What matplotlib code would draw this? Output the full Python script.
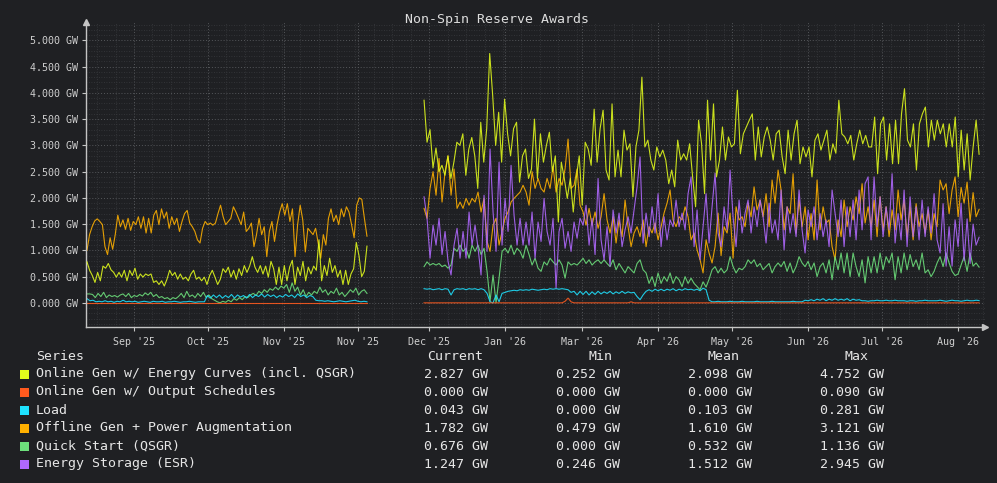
import numpy as np
import matplotlib
matplotlib.use("Agg")
import matplotlib.pyplot as plt
from matplotlib.patches import Rectangle
from matplotlib.ticker import FixedLocator, MultipleLocator, AutoMinorLocator

plt.rcParams['font.family'] = ['DejaVu Sans Mono']

# time axis in days (0 = "Sep '25" tick); two data segments with a gap
seg1_span = (-19.1, 94.7)
seg2_span = (117.9, 343.5)
tick_days = [0, 30, 61, 91, 120, 151, 182, 213, 243, 274, 304, 335]
tick_labels = ["Sep '25", "Oct '25", "Nov '25", "Nov '25", "Dec '25", "Jan '26",
               "Mar '26", "Apr '26", "May '26", "Jun '26", "Jul '26", "Aug '26"]

names = ["Online Gen w/ Energy Curves (incl. QSGR)", "Online Gen w/ Output Schedules",
         "Load", "Offline Gen + Power Augmentation", "Quick Start (QSGR)", "Energy Storage (ESR)"]
colors = ["#e2fb1c", "#ff5a1e", "#1ee2ff", "#ffb000", "#6de07c", "#b068ff"]
cur_gw = [2.827, 0.000, 0.043, 1.782, 0.676, 1.247]
min_gw = [0.252, 0.000, 0.000, 0.479, 0.000, 0.246]
mean_gw = [2.098, 0.000, 0.103, 1.610, 0.532, 1.512]
max_gw = [4.752, 0.090, 0.281, 3.121, 1.136, 2.945]

# ---- segment 1 (GW) ----
energy_s1 = [0.78, 0.62, 0.52, 0.39, 0.58, 0.42, 0.70, 0.66, 0.75, 0.63,
             0.58, 0.49, 0.58, 0.49, 0.62, 0.42, 0.62, 0.52, 0.66, 0.45,
             0.55, 0.49, 0.55, 0.52, 0.55, 0.39, 0.42, 0.35, 0.42, 0.32,
             0.45, 0.62, 0.52, 0.58, 0.45, 0.55, 0.45, 0.49, 0.42, 0.55,
             0.62, 0.45, 0.49, 0.42, 0.49, 0.35, 0.52, 0.62, 0.49, 0.35,
             0.45, 0.65, 0.58, 0.68, 0.49, 0.62, 0.45, 0.65, 0.52, 0.71,
             0.58, 0.70, 0.88, 0.68, 0.58, 0.71, 0.55, 0.70, 0.49, 0.79,
             0.65, 0.35, 0.68, 0.35, 0.71, 0.42, 0.68, 0.81, 0.35, 0.68,
             0.52, 0.79, 0.42, 0.68, 0.55, 0.70, 0.62, 1.20, 0.42, 0.71,
             0.52, 0.85, 0.58, 0.71, 0.49, 0.62, 0.35, 0.62, 0.35, 0.55,
             0.65, 1.15, 0.90, 0.50, 0.60, 1.08]
sched_s1 = [0.0, 0.0, 0.0, 0.0, 0.0, 0.0, 0.0, 0.0]
load_s1 = [0.08, 0.04, 0.05, 0.02, 0.03, 0.02, 0.04, 0.02, 0.03, 0.01,
           0.03, 0.02, 0.05, 0.02, 0.03, 0.02, 0.03, 0.01, 0.02, 0.03,
           0.02, 0.01, 0.03, 0.02, 0.02, 0.03, 0.01, 0.02, 0.02, 0.03,
           0.02, 0.01, 0.02, 0.02, 0.03, 0.02, 0.01, 0.02, 0.02, 0.02,
           0.14, 0.09, 0.15, 0.10, 0.15, 0.09, 0.14, 0.10, 0.16, 0.09,
           0.15, 0.11, 0.14, 0.09, 0.16, 0.10, 0.15, 0.12, 0.17, 0.11,
           0.16, 0.12, 0.15, 0.10, 0.14, 0.11, 0.16, 0.12, 0.15, 0.10,
           0.17, 0.12, 0.15, 0.10, 0.14, 0.12, 0.05, 0.04, 0.04, 0.03,
           0.04, 0.03, 0.02, 0.03, 0.04, 0.03, 0.02, 0.03, 0.04, 0.05,
           0.03, 0.02, 0.03, 0.02]
offline_s1 = [1.00, 1.30, 1.45, 1.56, 1.60, 1.55, 1.49, 1.07, 0.92, 1.24,
              1.02, 1.30, 1.67, 1.45, 1.58, 1.40, 1.61, 1.38, 1.55, 1.49,
              1.64, 1.42, 1.64, 1.33, 1.61, 1.33, 1.67, 1.76, 1.49, 1.79,
              1.61, 1.73, 1.42, 1.64, 1.49, 1.61, 1.36, 1.55, 1.70, 1.76,
              1.52, 1.45, 1.36, 1.20, 1.14, 1.42, 1.55, 1.49, 1.52, 1.48,
              1.52, 1.70, 1.86, 1.64, 1.49, 1.55, 1.61, 1.83, 1.73, 1.61,
              1.49, 1.73, 1.36, 1.42, 1.52, 1.07, 1.30, 1.61, 1.30, 1.45,
              0.88, 1.36, 1.55, 1.17, 1.49, 1.73, 1.89, 1.67, 1.89, 1.55,
              1.79, 0.88, 1.49, 1.86, 1.58, 0.97, 1.42, 1.36, 1.30, 1.42,
              1.14, 0.85, 1.30, 1.10, 1.61, 1.79, 1.55, 1.67, 1.49, 1.79,
              1.64, 1.83, 1.73, 1.49, 1.24, 1.86, 2.00, 1.97, 1.61, 1.27]
quick_s1 = [0.17, 0.17, 0.16, 0.10, 0.18, 0.12, 0.20, 0.10, 0.15, 0.12,
            0.14, 0.11, 0.15, 0.17, 0.12, 0.18, 0.10, 0.14, 0.12, 0.16,
            0.13, 0.19, 0.15, 0.20, 0.12, 0.16, 0.10, 0.12, 0.08, 0.10,
            0.06, 0.10, 0.08, 0.12, 0.18, 0.10, 0.22, 0.12, 0.15, 0.10,
            0.18, 0.12, 0.20, 0.10, 0.15, 0.08, 0.05, 0.02, 0.00, 0.03,
            0.01, 0.05, 0.02, 0.08, 0.05, 0.10, 0.06, 0.12, 0.10, 0.15,
            0.18, 0.14, 0.22, 0.18, 0.25, 0.20, 0.27, 0.24, 0.30, 0.25,
            0.32, 0.28, 0.35, 0.20, 0.38, 0.22, 0.30, 0.15, 0.25, 0.12,
            0.20, 0.15, 0.22, 0.18, 0.30, 0.20, 0.25, 0.15, 0.22, 0.18,
            0.28, 0.15, 0.20, 0.12, 0.18, 0.25, 0.20, 0.28, 0.15, 0.22,
            0.25, 0.18]
storage_s1 = []

# ---- segment 2 (GW) ----
energy_s2 = [3.86, 3.06, 3.30, 2.57, 2.95, 2.50, 2.62, 2.43, 2.80, 2.37,
             2.68, 3.06, 3.00, 3.22, 2.43, 2.93, 3.15, 2.80, 2.18, 3.44,
             2.68, 3.32, 4.75, 3.95, 3.00, 3.63, 2.68, 3.88, 3.22, 2.80,
             3.32, 3.44, 2.30, 2.80, 2.93, 2.37, 2.55, 3.50, 2.37, 3.22,
             2.68, 3.00, 3.25, 2.50, 2.80, 1.54, 2.68, 2.37, 1.99, 2.37,
             1.73, 2.37, 2.80, 1.86, 3.06, 2.93, 2.62, 3.69, 2.68, 3.32,
             3.67, 2.53, 2.34, 3.79, 2.40, 2.91, 2.40, 3.29, 2.91, 3.03,
             2.02, 2.97, 3.29, 4.30, 2.97, 3.10, 2.72, 2.53, 2.97, 2.78,
             2.91, 2.72, 2.27, 2.53, 2.21, 3.10, 2.72, 2.84, 2.72, 3.03,
             2.40, 1.83, 3.48, 3.03, 2.08, 3.86, 2.72, 3.79, 2.40, 2.72,
             3.35, 2.72, 3.16, 2.97, 3.03, 4.05, 2.84, 3.22, 3.35, 3.48,
             3.60, 2.72, 3.35, 2.78, 3.16, 3.35, 3.10, 2.72, 3.22, 3.29,
             2.78, 2.46, 3.29, 2.72, 3.22, 3.48, 2.65, 2.97, 2.78, 2.97,
             2.40, 3.10, 3.22, 2.91, 3.10, 3.29, 2.72, 3.03, 2.85, 3.86,
             3.22, 3.16, 3.03, 3.19, 2.72, 3.03, 3.29, 3.03, 3.19, 2.97,
             2.97, 3.54, 2.46, 3.41, 3.54, 2.72, 3.41, 2.65, 3.48, 2.65,
             3.60, 4.08, 3.10, 2.97, 3.41, 2.53, 3.41, 3.60, 3.73, 2.97,
             3.48, 3.10, 3.48, 3.22, 3.41, 2.97, 3.41, 2.97, 3.54, 2.40,
             3.29, 2.53, 3.22, 2.34, 2.97, 3.48, 2.83]
sched_s2 = [0, 0, 0, 0, 0, 0, 0, 0, 0, 0, 0, 0, 0, 0, 0, 0, 0, 0, 0, 0,
            0, 0, 0, 0, 0, 0, 0, 0, 0, 0, 0, 0, 0, 0, 0, 0, 0, 0, 0, 0,
            0, 0, 0, 0, 0, 0, 0, 0.03, 0.09, 0.02, 0, 0, 0, 0, 0, 0, 0, 0, 0, 0,
            0, 0, 0, 0, 0, 0, 0, 0, 0, 0.02, 0, 0, 0, 0, 0, 0, 0, 0, 0, 0,
            0, 0, 0, 0, 0, 0, 0, 0, 0, 0, 0, 0, 0, 0, 0, 0, 0, 0, 0, 0,
            0, 0, 0, 0, 0, 0, 0, 0, 0, 0, 0, 0, 0, 0, 0, 0, 0, 0, 0, 0,
            0, 0, 0, 0, 0, 0, 0, 0, 0, 0, 0, 0, 0, 0, 0, 0, 0, 0, 0, 0,
            0, 0, 0, 0, 0, 0, 0, 0, 0, 0, 0, 0, 0, 0, 0, 0, 0, 0, 0, 0,
            0, 0, 0, 0, 0, 0, 0, 0, 0, 0, 0, 0, 0, 0, 0, 0, 0, 0, 0, 0,
            0, 0, 0, 0, 0, 0]
load_s2 = [0.27, 0.26, 0.27, 0.25, 0.26, 0.27, 0.25, 0.27, 0.26, 0.15,
           0.25, 0.27, 0.26, 0.27, 0.25, 0.27, 0.26, 0.27, 0.25, 0.27,
           0.25, 0.18, 0.02, 0.00, 0.15, 0.02, 0.18, 0.20, 0.22, 0.23,
           0.24, 0.23, 0.25, 0.24, 0.25, 0.24, 0.26, 0.25, 0.24, 0.25,
           0.26, 0.25, 0.27, 0.26, 0.27, 0.26, 0.27, 0.26, 0.25, 0.20,
           0.22, 0.15, 0.22, 0.16, 0.22, 0.15, 0.21, 0.16, 0.22, 0.17,
           0.21, 0.18, 0.22, 0.17, 0.21, 0.18, 0.22, 0.18, 0.21, 0.19,
           0.20, 0.12, 0.06, 0.15, 0.22, 0.25, 0.22, 0.26, 0.23, 0.26,
           0.23, 0.26, 0.24, 0.27, 0.23, 0.26, 0.24, 0.27, 0.25, 0.26,
           0.24, 0.26, 0.23, 0.28, 0.25, 0.05, 0.02, 0.02, 0.03, 0.02,
           0.02, 0.02, 0.03, 0.02, 0.02, 0.02, 0.03, 0.02, 0.02, 0.02,
           0.02, 0.03, 0.02, 0.02, 0.02, 0.02, 0.03, 0.02, 0.02, 0.02,
           0.02, 0.02, 0.02, 0.03, 0.02, 0.02, 0.02, 0.05, 0.04, 0.06,
           0.04, 0.07, 0.05, 0.08, 0.04, 0.07, 0.05, 0.08, 0.05, 0.07,
           0.05, 0.08, 0.04, 0.07, 0.05, 0.06, 0.04, 0.04, 0.03, 0.04,
           0.04, 0.05, 0.04, 0.04, 0.05, 0.04, 0.04, 0.05, 0.04, 0.04,
           0.04, 0.03, 0.04, 0.04, 0.03, 0.04, 0.04, 0.05, 0.04, 0.04,
           0.04, 0.04, 0.05, 0.04, 0.03, 0.04, 0.05, 0.04, 0.04, 0.03,
           0.04, 0.05, 0.04, 0.04, 0.05, 0.043]
offline_s2 = [1.80, 1.61, 2.18, 2.50, 2.05, 2.75, 1.92, 2.50, 2.80, 2.05,
              2.55, 1.80, 1.92, 1.80, 1.99, 1.86, 1.99, 1.92, 2.11, 1.73,
              1.99, 1.17, 0.98, 1.48, 1.61, 1.10, 1.36, 1.61, 1.73, 1.92,
              1.99, 2.05, 2.11, 2.24, 2.11, 1.86, 2.50, 2.18, 2.37, 2.18,
              2.11, 2.37, 2.18, 2.60, 2.11, 2.37, 2.24, 2.55, 3.12, 2.18,
              2.24, 2.55, 1.86, 1.73, 1.48, 1.80, 1.48, 1.73, 1.42, 1.64,
              2.08, 1.58, 1.33, 1.64, 1.14, 1.58, 1.26, 1.96, 1.45, 1.07,
              1.33, 1.45, 1.26, 1.58, 1.07, 1.45, 1.33, 1.52, 1.20, 1.45,
              1.71, 1.90, 2.15, 1.58, 1.45, 1.64, 1.58, 1.83, 1.64, 1.20,
              1.33, 1.01, 0.82, 0.57, 1.20, 0.95, 0.76, 1.07, 1.71, 0.90,
              1.45, 1.33, 1.71, 0.85, 1.83, 1.58, 1.64, 1.45, 1.90, 1.64,
              2.21, 1.77, 1.96, 1.64, 2.08, 1.45, 2.34, 1.90, 2.53, 2.15,
              1.39, 1.83, 1.70, 2.46, 1.33, 1.96, 1.45, 1.83, 1.20, 1.70,
              1.20, 2.34, 1.39, 1.83, 1.52, 1.58, 1.07, 0.82, 1.58, 1.26,
              1.96, 1.45, 1.83, 1.58, 2.02, 1.70, 2.27, 1.52, 1.83, 1.45,
              1.96, 1.26, 2.02, 1.39, 1.83, 1.26, 1.77, 1.39, 2.15, 1.58,
              1.96, 1.26, 1.83, 1.20, 1.89, 1.45, 1.70, 1.33, 1.77, 1.20,
              1.70, 1.45, 2.34, 2.15, 2.27, 1.70, 2.15, 2.40, 1.64, 2.20,
              1.90, 2.30, 1.55, 2.10, 1.64, 1.78]
quick_s2 = [0.69, 0.78, 0.72, 0.75, 0.72, 0.75, 0.69, 0.72, 0.66, 0.72,
            1.04, 0.98, 1.10, 0.98, 1.04, 0.85, 1.10, 0.98, 1.10, 0.92,
            1.04, 0.60, 0.03, 0.53, 0.00, 0.47, 0.98, 1.04, 0.95, 1.10,
            0.92, 1.04, 0.98, 0.85, 1.10, 0.92, 0.72, 0.85, 0.66, 0.60,
            0.78, 0.72, 0.85, 0.78, 0.72, 0.82, 0.72, 0.47, 0.78, 0.72,
            0.75, 0.72, 0.78, 0.85, 0.75, 0.82, 0.72, 0.78, 0.82, 0.75,
            0.82, 0.75, 0.69, 0.82, 0.63, 0.75, 0.66, 0.57, 0.69, 0.63,
            0.57, 0.75, 0.82, 0.63, 0.57, 0.37, 0.50, 0.31, 0.57, 0.37,
            0.50, 0.41, 0.57, 0.37, 0.50, 0.44, 0.31, 0.50, 0.37, 0.47,
            0.37, 0.31, 0.25, 0.40, 0.30, 0.45, 0.63, 0.69, 0.57, 0.66,
            0.57, 0.63, 0.88, 0.69, 0.57, 0.66, 0.63, 0.69, 0.82, 0.75,
            0.82, 0.69, 0.75, 0.63, 0.69, 0.75, 0.57, 0.69, 0.76, 0.69,
            0.79, 0.60, 0.76, 0.57, 0.69, 0.88, 0.76, 0.69, 0.79, 0.63,
            0.76, 0.50, 0.69, 0.76, 0.57, 0.82, 0.44, 0.88, 0.63, 0.95,
            0.57, 0.95, 0.50, 0.95, 0.69, 0.50, 0.82, 0.38, 0.88, 0.57,
            0.88, 0.57, 0.95, 0.63, 0.88, 0.76, 0.95, 0.44, 0.88, 0.57,
            0.95, 0.63, 0.92, 0.69, 0.82, 0.63, 0.95, 0.57, 0.63, 0.50,
            0.60, 0.76, 0.88, 0.69, 0.95, 0.76, 0.60, 0.52, 0.55, 0.72,
            0.88, 0.60, 0.95, 0.70, 0.76, 0.68]
storage_s2 = [2.02, 1.61, 0.85, 1.48, 1.10, 1.61, 0.92, 1.36, 0.79, 0.53,
              1.10, 1.42, 0.85, 1.36, 0.85, 1.73, 1.10, 1.48, 1.04, 0.53,
              2.05, 0.98, 2.93, 1.73, 0.98, 2.68, 1.10, 1.99, 1.36, 2.62,
              1.67, 1.10, 1.61, 1.10, 1.54, 1.10, 1.73, 0.85, 1.54, 1.17,
              1.99, 1.36, 1.10, 1.61, 0.28, 1.36, 1.61, 1.04, 1.36, 0.98,
              1.54, 1.23, 1.61, 1.48, 1.86, 1.10, 1.61, 0.92, 2.37, 1.20,
              0.82, 1.45, 0.70, 1.77, 1.33, 1.71, 1.07, 1.39, 1.64, 1.33,
              1.77, 2.21, 2.78, 1.14, 1.71, 1.26, 1.83, 1.33, 2.08, 1.07,
              1.64, 1.20, 1.58, 1.45, 1.96, 1.45, 1.71, 1.39, 2.08, 2.40,
              1.07, 1.77, 0.82, 1.45, 2.08, 1.14, 1.83, 2.47, 1.33, 1.07,
              1.83, 1.39, 2.53, 1.64, 1.07, 1.96, 1.33, 1.71, 1.96, 1.33,
              1.83, 1.45, 1.96, 1.64, 1.14, 1.90, 1.33, 1.58, 1.20, 2.15,
              1.01, 1.83, 1.33, 1.70, 1.26, 2.15, 1.39, 0.95, 1.77, 1.45,
              1.83, 1.20, 1.70, 1.26, 1.58, 1.07, 2.15, 1.70, 1.26, 1.96,
              1.07, 1.83, 1.26, 1.96, 1.20, 2.15, 1.39, 2.27, 2.40, 1.20,
              2.40, 1.45, 2.02, 1.26, 1.83, 1.39, 2.46, 1.14, 1.70, 1.20,
              2.15, 1.07, 2.02, 1.26, 1.83, 1.20, 1.96, 1.26, 1.83, 1.33,
              2.08, 1.20, 0.95, 1.89, 0.70, 1.45, 0.70, 1.58, 1.07, 1.90,
              0.80, 1.60, 0.75, 1.50, 1.10, 1.25]

seg1_data = [energy_s1, sched_s1, load_s1, offline_s1, quick_s1, storage_s1]
seg2_data = [energy_s2, sched_s2, load_s2, offline_s2, quick_s2, storage_s2]
zorders = [2.6, 2.5, 2.4, 2.1, 2.2, 2.3]

BG = "#1f2023"
FG = "#cfcfcf"
SPINE = "#c4c4c4"

W, H = 997, 483
fig = plt.figure(figsize=(W / 100, H / 100), dpi=100)
fig.patch.set_facecolor(BG)
ax = fig.add_axes([86 / W, (H - 327) / H, (985 - 86) / W, (327 - 22) / H])
ax.set_facecolor(BG)

for i in range(len(names)):
    for span, vals in ((seg1_span, seg1_data[i]), (seg2_span, seg2_data[i])):
        if len(vals) == 0:
            continue
        x = np.linspace(span[0], span[1], len(vals))
        ax.plot(x, vals, color=colors[i], lw=0.8, alpha=0.88, zorder=zorders[i])

ax.set_xlim(-19.5, 345.9)
ax.set_ylim(-0.46, 5.35)

ax.xaxis.set_major_locator(FixedLocator(tick_days))
ax.set_xticklabels(tick_labels)
ax.xaxis.set_minor_locator(AutoMinorLocator(4))
ax.yaxis.set_major_locator(FixedLocator(np.arange(0, 5.01, 0.5)))
ax.set_yticklabels([f"{v:.3f} GW" for v in np.arange(0, 5.01, 0.5)])
ax.yaxis.set_minor_locator(MultipleLocator(0.1))

ax.tick_params(which='major', colors=SPINE, labelcolor=FG, labelsize=7.2, length=3, width=0.8)
ax.tick_params(which='minor', length=0)
ax.tick_params(axis='x', pad=4)
ax.tick_params(axis='y', pad=3)

ax.grid(which='major', color='#55575b', linestyle=(0, (1, 2)), linewidth=0.7)
ax.grid(which='minor', color='#393b3f', linestyle=(0, (1, 2)), linewidth=0.6)
ax.set_axisbelow(True)

for s in ('top', 'right'):
    ax.spines[s].set_visible(False)
for s in ('left', 'bottom'):
    ax.spines[s].set_color(SPINE)
    ax.spines[s].set_linewidth(1.0)
ax.plot([1], [0], marker='>', ms=4, color=SPINE, transform=ax.transAxes, clip_on=False)
ax.plot([0], [1], marker='^', ms=4, color=SPINE, transform=ax.transAxes, clip_on=False)

fig.text(497 / W, 1 - 19 / H, "Non-Spin Reserve Awards", ha='center', va='center',
         fontsize=9.5, color='#dcdcdc')

# legend table
def fy(py):
    return 1 - py / H

head_y = 356
fig.text(36 / W, fy(head_y), "Series", ha='left', va='center', fontsize=9.5, color='#e6e6e6')
for label, cx in (("Current", 455), ("Min", 600), ("Mean", 723), ("Max", 856)):
    fig.text(cx / W, fy(head_y), label, ha='center', va='center', fontsize=9.5, color='#e6e6e6')

for i, name in enumerate(names):
    ry = 374 + 18 * i
    fig.patches.append(Rectangle((20 / W, fy(ry + 4.5)), 9 / W, 9 / H, transform=fig.transFigure,
                                 facecolor=colors[i], edgecolor='none'))
    fig.text(36 / W, fy(ry), name, ha='left', va='center', fontsize=9.5, color='#e6e6e6')
    for vals, rx in ((cur_gw, 488), (min_gw, 620), (mean_gw, 752), (max_gw, 884)):
        fig.text(rx / W, fy(ry), f"{vals[i]:.3f} GW", ha='right', va='center',
                 fontsize=9.5, color='#e6e6e6')

fig.savefig("out.png", dpi=100, facecolor=BG)
